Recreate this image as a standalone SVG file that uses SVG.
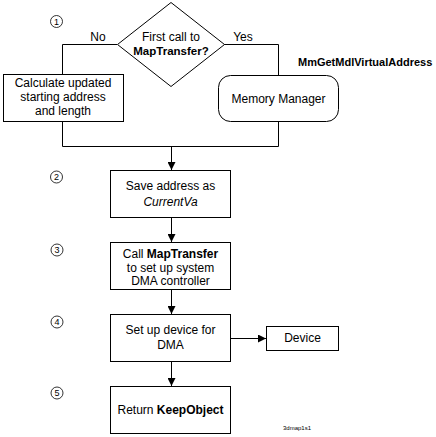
<svg xmlns="http://www.w3.org/2000/svg" width="436" height="437" viewBox="0 0 436 437">
<defs>
<marker id="arr" viewBox="0 0 8 8" refX="8" refY="4" markerWidth="8" markerHeight="8" markerUnits="userSpaceOnUse" orient="auto">
<path d="M0,0 L8,4 L0,8 Z" fill="#000"/>
</marker>
</defs>
<style>
.box{fill:#fff;stroke:#000;stroke-width:1}
.ln{fill:none;stroke:#000;stroke-width:1}
.t{font-family:"Liberation Sans",Arial,sans-serif;font-size:12px;fill:#000;text-anchor:middle}
.b{font-weight:bold}
.i{font-style:italic}
.num{font-family:"Liberation Sans",Arial,sans-serif;font-size:9px;fill:#000;text-anchor:middle}
.circ{fill:#fff;stroke:#000;stroke-width:0.8}
</style>
<rect width="436" height="437" fill="#fff"/>
<g id="connectors">
<polyline class="ln" points="117,44.5 62.5,44.5 62.5,74"/>
<polyline class="ln" points="224,44.5 278.5,44.5 278.5,75"/>
<polyline class="ln" points="62.5,122 62.5,146.5 278.5,146.5 278.5,122"/>
<line class="ln" x1="171.5" y1="146.5" x2="171.5" y2="170" marker-end="url(#arr)"/>
<line class="ln" x1="171.5" y1="218" x2="171.5" y2="242" marker-end="url(#arr)"/>
<line class="ln" x1="171.5" y1="290" x2="171.5" y2="314" marker-end="url(#arr)"/>
<line class="ln" x1="171.5" y1="362" x2="171.5" y2="386" marker-end="url(#arr)"/>
<line class="ln" x1="230" y1="338.5" x2="266" y2="338.5" marker-end="url(#arr)"/>
<text class="t" x="98" y="41">No</text>
<text class="t" x="243" y="41">Yes</text>
</g>
<g id="decision">
<polygon class="box" points="171,2.5 224.5,44.5 171,86.5 117.5,44.5"/>
<text class="t" x="171" y="41">First call to</text>
<text class="t b" x="171" y="55" style="font-size:11.5px">MapTransfer?</text>
</g>
<g id="step1">
<circle class="circ" cx="56.5" cy="21.5" r="6"/>
<text class="num" x="56.5" y="24.8">1</text>
</g>
<g id="calc">
<rect class="box" x="3.5" y="74.5" width="120" height="47"/>
<text class="t" x="63" y="87">Calculate updated</text>
<text class="t" x="63" y="101">starting address</text>
<text class="t" x="63" y="115">and length</text>
</g>
<g id="memmgr">
<rect class="box" x="218.5" y="75.5" width="120" height="46" rx="12" ry="12"/>
<text class="t" x="278.5" y="103">Memory Manager</text>
</g>
<g id="mmlabel">
<text class="t b" x="298" y="66" style="text-anchor:start;font-size:11px">MmGetMdlVirtualAddress</text>
</g>
<g id="step2">
<circle class="circ" cx="56.5" cy="177" r="6"/>
<text class="num" x="56.5" y="180.3">2</text>
<rect class="box" x="110.5" y="170.5" width="120" height="47"/>
<text class="t" x="170.5" y="190">Save address as</text>
<text class="t i" x="170.5" y="206">CurrentVa</text>
</g>
<g id="step3">
<circle class="circ" cx="57" cy="250" r="6"/>
<text class="num" x="57" y="253.3">3</text>
<rect class="box" x="110.5" y="242.5" width="120" height="47"/>
<text class="t" x="170.5" y="258">Call <tspan class="b">MapTransfer</tspan></text>
<text class="t" x="170.5" y="272">to set up system</text>
<text class="t" x="170.5" y="285">DMA controller</text>
</g>
<g id="step4">
<circle class="circ" cx="57" cy="322" r="6"/>
<text class="num" x="57" y="325.3">4</text>
<rect class="box" x="110.5" y="314.5" width="120" height="47"/>
<text class="t" x="170.5" y="334">Set up device for</text>
<text class="t" x="170.5" y="349">DMA</text>
</g>
<g id="device">
<rect class="box" x="266.5" y="326.5" width="72" height="24"/>
<text class="t" x="302.5" y="342">Device</text>
</g>
<g id="step5">
<circle class="circ" cx="57" cy="393" r="6"/>
<text class="num" x="57" y="396.3">5</text>
<rect class="box" x="110.5" y="386.5" width="120" height="47"/>
<text class="t" x="170.5" y="414">Return <tspan class="b">KeepObject</tspan></text>
</g>
<text x="283" y="430" style="font-family:'Liberation Sans',Arial,sans-serif;font-size:6px;fill:#000">3dmap1s1</text>
</svg>
